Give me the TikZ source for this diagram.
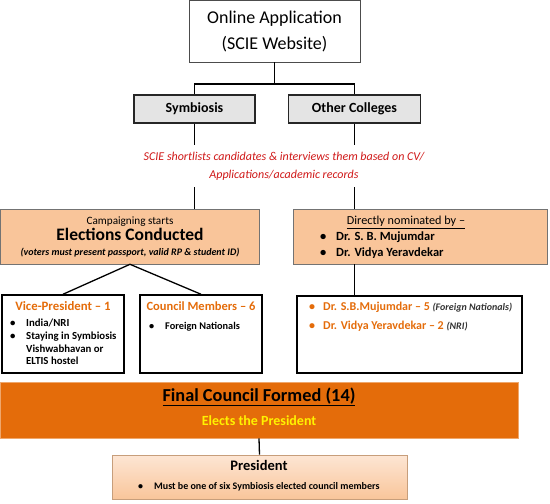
\documentclass[tikz,border=0pt]{standalone}
\usepackage{fontspec}
\setmainfont{Carlito}
\definecolor{peach}{HTML}{F9C59A}
\definecolor{darkorange}{HTML}{E46C0A}
\definecolor{tagfill}{HTML}{E4E4E4}
\definecolor{notered}{HTML}{D01818}
\definecolor{preslight}{HTML}{FDE6D4}
\newcommand{\fsz}[1]{\fontsize{#1}{#1}\selectfont}
\newcommand{\blt}[1]{\makebox[16pt][l]{\textbullet}#1}
\tikzset{
  box/.style={draw, rectangle, inner sep=0pt},
  peachbox/.style={box, fill=peach, draw=black!55, line width=0.6pt},
  tagbox/.style={box, fill=tagfill, draw=black!85, line width=1.4pt},
  listbox/.style={box, draw=black, line width=1.5pt},
  txt/.style={inner sep=0pt, anchor=mid},
  ltxt/.style={inner sep=0pt, anchor=mid west},
  link/.style={draw=black, line width=1.3pt}
}
\begin{document}
\begin{tikzpicture}[x=1pt,y=-1pt]
\useasboundingbox (0,0) rectangle (550,504);
% boxes
\node[box, draw=black!70, line width=0.8pt, minimum width=171pt, minimum height=62pt,
  align=center, font=\fontsize{18}{26}\selectfont] (online) at (274.5,31) {Online Application\\(SCIE Website)};
\node[tagbox, minimum width=121pt, minimum height=28pt, font=\fsz{14}\bfseries] (sym) at (194.5,109) {Symbiosis};
\node[tagbox, minimum width=132pt, minimum height=28pt, font=\fsz{14}\bfseries] (other) at (354.5,109) {Other Colleges};
\node[peachbox, minimum width=259pt, minimum height=55pt] (elect) at (130,236.5) {};
\node[peachbox, minimum width=254pt, minimum height=55pt] (direct) at (420,236.5) {};
\node[listbox, minimum width=122pt, minimum height=78pt] (vp) at (63,334) {};
\node[listbox, minimum width=122pt, minimum height=78pt] (council) at (201,334) {};
\node[listbox, minimum width=225pt, minimum height=77pt] (nomin) at (409.5,334.5) {};
\node[box, fill=darkorange, draw=darkorange!60, line width=0.6pt, minimum width=518pt, minimum height=56pt] (final) at (259,410) {};
\node[box, top color=preslight, bottom color=peach, draw=peach!80!black, line width=0.6pt,
  minimum width=295pt, minimum height=44pt] (pres) at (259.5,477) {};
% connectors
\coordinate (split) at (274.5,84);
\draw[link] (online.south) -- (split);
\draw[link] (split) -| (sym.north);
\draw[link] (split) -| (other.north);
\draw[link] (sym.south) -- (sym.south |- elect.north);
\draw[link] (other.south) -- (other.south |- direct.north);
\draw[link] (elect.south) -- (vp.north);
\draw[link] (elect.south) -- (council.north);
\draw[link] (other.south |- direct.south) -- (other.south |- nomin.north);
\draw[link] (final.south) -- (pres.north);
% note over the lines
\node[fill=white, inner sep=0pt, minimum width=310pt, minimum height=42pt, align=center,
  text=notered, font=\fontsize{12}{18}\selectfont\itshape] (note) at (284,166)
  {SCIE shortlists candidates \& interviews them based on CV/\\Applications/academic records};
% texts
\node[txt, font=\fsz{11.2}] (camp) at (130,222) {Campaigning starts};
\node[txt, font=\fsz{17.5}\bfseries] (electt) at (130,238.5) {Elections Conducted};
\node[txt, font=\fsz{10}\bfseries\itshape] (voters) at (130,253.5) {(voters must present passport, valid RP \& student ID)};
\node[txt, font=\fsz{12.2}] (dirt) at (406,222) {\underline{Directly nominated by –}};
\node[ltxt, font=\fsz{12.5}\bfseries] (dir1) at (320,238) {\blt{Dr. S. B. Mujumdar}};
\node[ltxt, font=\fsz{12.5}\bfseries] (dir2) at (320,254) {\blt{Dr. Vidya Yeravdekar}};
\node[txt, font=\fsz{12.8}\bfseries, text=darkorange] (vpt) at (63,308) {Vice-President – 1};
\node[ltxt, font=\fsz{10.8}\bfseries] (vp1) at (10,324) {\blt{India/NRI}};
\node[ltxt, font=\fsz{10.8}\bfseries] (vp2) at (10,337) {\blt{Staying in Symbiosis}};
\node[ltxt, font=\fsz{10.8}\bfseries] (vp3) at (26,350) {Vishwabhavan or};
\node[ltxt, font=\fsz{10.8}\bfseries] (vp4) at (26,362.5) {ELTIS hostel};
\node[txt, font=\fsz{12.5}\bfseries, text=darkorange] (cout) at (201,308) {Council Members – 6};
\node[ltxt, font=\fsz{10.3}\bfseries] (cou1) at (149,327) {\blt{Foreign Nationals}};
\node[ltxt, font=\fsz{12}\bfseries, text=darkorange] (nom1) at (309,308)
  {\makebox[14pt][l]{\textbullet}Dr. S.B.Mujumdar – 5 {\color{black!80}\fsz{10}\itshape(Foreign Nationals)}};
\node[ltxt, font=\fsz{12}\bfseries, text=darkorange] (nom2) at (309,327)
  {\makebox[14pt][l]{\textbullet}Dr. Vidya Yeravdekar – 2 {\color{black!80}\fsz{10}\itshape(NRI)}};
\node[txt, font=\fsz{18.3}\bfseries] (finalt) at (259,399) {\underline{Final Council Formed (14)}};
\node[txt, font=\fsz{14}\bfseries, text=yellow] (elects) at (259,423) {Elects the President};
\node[txt, font=\fsz{14.5}\bfseries] (prest) at (259,468) {President};
\node[ltxt, font=\fsz{10}\bfseries] (pres1) at (138,487) {\blt{Must be one of six Symbiosis elected council members}};
\end{tikzpicture}
\end{document}
